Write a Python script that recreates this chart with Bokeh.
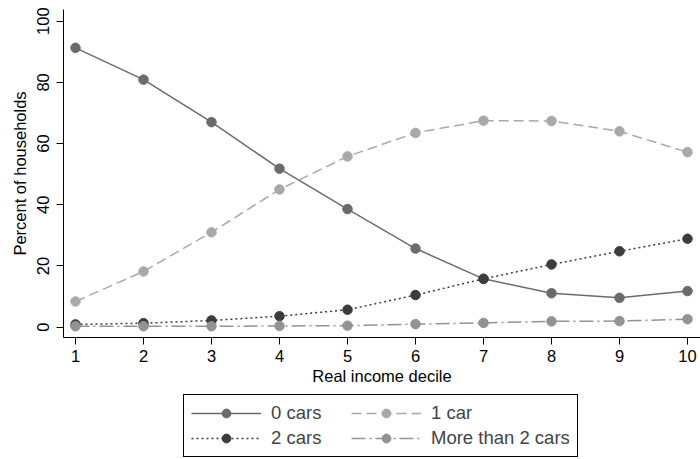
from bokeh.plotting import figure
from bokeh.models import Legend, LegendItem, FixedTicker, Range1d
from bokeh.layouts import column
from bokeh.embed import file_html
from bokeh.resources import INLINE

deciles = [1, 2, 3, 4, 5, 6, 7, 8, 9, 10]
cars0 = [91.3, 80.9, 67.0, 51.8, 38.6, 25.7, 15.8, 11.1, 9.6, 11.8]
cars1 = [8.4, 18.2, 31.0, 45.0, 55.8, 63.5, 67.5, 67.4, 64.0, 57.2]
cars2 = [0.9, 1.3, 2.2, 3.6, 5.7, 10.5, 15.8, 20.5, 24.8, 28.9]
cars3 = [0.3, 0.3, 0.3, 0.4, 0.5, 1.0, 1.4, 1.9, 2.0, 2.6]
labels = ["0 cars", "1 car", "2 cars", "More than 2 cars"]
y_ticks = [0, 20, 40, 60, 80, 100]

FONT = "Liberation Sans"

p = figure(width=700, height=391, output_backend="svg", toolbar_location=None,
           x_range=Range1d(0.8235, 10.191), y_range=Range1d(-3.37, 103.82),
           min_border_top=9, min_border_right=0, min_border_left=63, min_border_bottom=54)
p.outline_line_color = None
p.grid.grid_line_color = None
p.background_fill_color = "white"
p.border_fill_color = "white"

styles = [
    dict(color="#6b6b6b", dash="solid"),
    dict(color="#a9a9a9", dash="10 5"),
    dict(color="#3c3c3c", dash="2 3"),
    dict(color="#939393", dash="14 4 2 4"),
]
series = [cars0, cars1, cars2, cars3]

for ys, st in zip(series, styles):
    p.line(deciles, ys, line_color=st["color"], line_width=1.5, line_dash=st["dash"])
    p.scatter(deciles, ys, size=9.5, marker="circle", fill_color=st["color"], line_color=st["color"])

for ax in (p.xaxis[0], p.yaxis[0]):
    ax.axis_line_color = "black"
    ax.axis_line_width = 1
    ax.major_tick_line_color = "black"
    ax.major_tick_out = 7
    ax.major_tick_in = 0
    ax.minor_tick_line_color = None
    ax.major_label_text_font = FONT
    ax.major_label_text_font_size = "16.5px"
    ax.major_label_text_color = "black"
    ax.axis_label_text_font = FONT
    ax.axis_label_text_font_size = "16.5px"
    ax.axis_label_text_font_style = "normal"
    ax.axis_label_text_color = "black"

p.xaxis.ticker = FixedTicker(ticks=deciles)
p.yaxis.ticker = FixedTicker(ticks=y_ticks)
p.xaxis.axis_label = "Real income decile"
p.yaxis.axis_label = "Percent of households"
p.yaxis.major_label_orientation = "vertical"
p.xaxis.major_label_standoff = 5
p.xaxis.axis_label_standoff = 2
p.yaxis.major_label_standoff = 7
p.yaxis.axis_label_standoff = 6

# legend panel (separate figure, same styles, keys only)
lg = figure(width=700, height=67, output_backend="svg", toolbar_location=None,
            x_range=Range1d(0, 1), y_range=Range1d(0, 1),
            x_axis_location=None, y_axis_location=None,
            min_border=0, min_border_left=0, min_border_right=0,
            min_border_top=0, min_border_bottom=0)
lg.outline_line_color = None
lg.grid.grid_line_color = None
lg.border_fill_color = "white"
lg.background_fill_color = "white"

items = []
for lab, st in zip(labels, styles):
    lr = lg.line([-5, -4], [-5, -4], line_color=st["color"], line_width=1.5, line_dash=st["dash"])
    sr = lg.scatter([-5], [-5], size=9.5, marker="circle", fill_color=st["color"], line_color=st["color"])
    items.append(LegendItem(label=lab, renderers=[lr, sr]))

legend = Legend(items=items, orientation="horizontal", ncols=2, location=(120, 1),
                label_text_font=FONT, label_text_font_size="18.5px",
                glyph_width=70, glyph_height=22, label_height=22, label_width=77,
                label_standoff=10, spacing=3, padding=7, margin=0,
                border_line_color="black", border_line_width=1, border_line_alpha=1.0,
                background_fill_color="white", background_fill_alpha=1.0)
lg.add_layout(legend, "center")

layout = column(p, lg, spacing=0)
open("out.html", "w").write(file_html(layout, INLINE))
